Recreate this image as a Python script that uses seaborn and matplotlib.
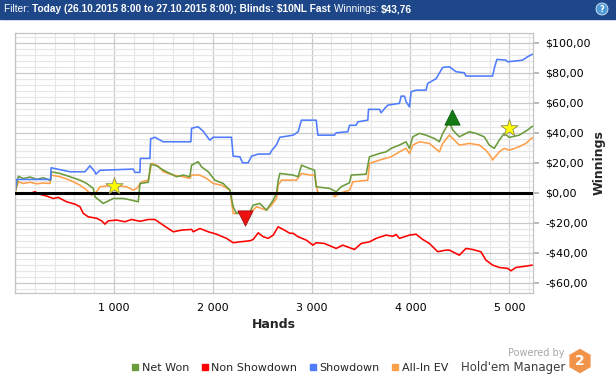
import matplotlib
matplotlib.use("Agg")
import matplotlib.pyplot as plt
from matplotlib.lines import Line2D
from matplotlib.patches import Rectangle, RegularPolygon, Circle
from matplotlib.ticker import MultipleLocator, FuncFormatter
import numpy as np
import pandas as pd
import seaborn as sns

# series (hands, winnings in $)
sd_hands = [0, 17, 361, 365, 556, 708, 758, 809, 819, 859, 1196, 1213, 1264, 1268, 1365, 1372, 1415,
            1500, 1779, 1786, 1853, 1904, 1971, 2005, 2190, 2207, 2275, 2302, 2359, 2393, 2460, 2578,
            2595, 2645, 2679, 2814, 2864, 2898, 3047, 3064, 3232, 3249, 3367, 3384, 3451, 3468, 3569,
            3576, 3687, 3704, 3737, 3771, 3889, 3906, 3940, 3957, 3990, 4007, 4057, 4158, 4175, 4259,
            4327, 4394, 4461, 4545, 4562, 4831, 4848, 4875, 4966, 4983, 5134, 5185, 5235]
sd_vals = [0, 8.9, 8.9, 16.7, 14, 14, 18, 14, 12.4, 15, 15.8, 13.6, 13.6, 22.9, 22.9, 36, 37,
           34, 34, 43, 44, 41, 35, 37, 37, 24.4, 24, 20, 20, 24.4, 25.8, 25.8,
           28, 32, 37, 38.4, 40.7, 48.4, 48.4, 38.4, 38.4, 40, 40.7, 45, 45, 47.3, 48.4,
           55.6, 55.6, 53.3, 56, 58.4, 59.6, 64.4, 64.4, 60.7, 57.3, 67.3, 68.4, 68.4, 72.9, 76,
           83.6, 84, 80.7, 80, 77.8, 77.8, 82.9, 88.9, 88.4, 87.3, 88.4, 90.7, 92.4]

nsd_hands = [0, 152, 202, 253, 320, 388, 438, 522, 607, 657, 691, 741, 826, 876, 910, 944, 1028, 1112,
             1179, 1264, 1348, 1415, 1500, 1550, 1601, 1685, 1786, 1803, 1870, 1955, 2039, 2140, 2207,
             2275, 2376, 2410, 2460, 2511, 2561, 2612, 2662, 2713, 2780, 2814, 2864, 2948, 3013, 3047,
             3131, 3249, 3316, 3434, 3502, 3586, 3653, 3754, 3822, 3855, 3889, 3990, 4057, 4124, 4192,
             4276, 4360, 4394, 4495, 4562, 4629, 4713, 4764, 4831, 4899, 4983, 5017, 5067, 5168, 5235]
nsd_vals = [0, -0.4, 0.7, -1, -2.2, -3.8, -3.1, -6, -7.6, -9.3, -13.8, -16, -17, -18.7, -20.9, -18.7,
            -18.2, -19.3, -17.8, -19, -17.8, -17.8, -21.6, -23.8, -26, -24.9, -24.4, -26, -23.8, -26,
            -27.6, -30.4, -33.3, -32.7, -32, -31.1, -26.7, -29.3, -30.4, -28.2, -22.7, -24.4, -27, -27,
            -29.3, -31.6, -34.9, -33.3, -33.8, -37.1, -34.9, -37.8, -33.8, -32.7, -30.4, -28.2, -29,
            -27.8, -30.4, -28.2, -27.6, -31.1, -33.8, -39.3, -38.2, -38.2, -41.6, -37.1, -37.8, -39.3,
            -44.9, -48.2, -49.8, -50.4, -52, -49.8, -48.9, -48.2]

net_hands = [0, 34, 84, 152, 219, 286, 354, 361, 364, 455, 556, 657, 725, 792, 809, 893, 994, 1095,
             1179, 1247, 1264, 1348, 1372, 1432, 1500, 1567, 1634, 1702, 1769, 1786, 1853, 1887, 1955,
             2022, 2106, 2174, 2207, 2241, 2308, 2376, 2410, 2477, 2544, 2578, 2612, 2645, 2662, 2679,
             2814, 2864, 2898, 2980, 3030, 3047, 3182, 3249, 3300, 3384, 3401, 3552, 3586, 3687, 3754,
             3805, 3889, 3956, 3990, 4024, 4091, 4158, 4242, 4293, 4327, 4394, 4428, 4495, 4596, 4663,
             4747, 4798, 4848, 4899, 4949, 5000, 5100, 5184, 5235]
net_vals = [0, 11, 9.5, 10.5, 9, 10, 8.4, 8.4, 14, 12.9, 10.7, 8.4, 6.2, 2.9, -2.7, -7.1, -3.8, -3.8,
            -4.9, -6, 6.2, 7, 19.1, 18, 15.1, 12.9, 10.7, 11.8, 10.7, 18.4, 20.7, 17.3, 14,
            8.4, 6.2, 1.8, -9.3, -13.8, -12.7, -12.7, -8.2, -7.1, -11.6, -8.2, -4.9, -0.4, 8, 12.9,
            11.8, 10.7, 18.4, 16.2, 15.1, 4, 2.9, 0.7, 4, 6.7, 11.8, 12.4, 24, 26.2, 27.3,
            29.6, 31.8, 34, 29.6, 37.3, 39.6, 38.4, 36.2, 34, 39.6, 47.3, 41.8, 37.3, 40.7, 39.6,
            37.3, 31.8, 29.6, 35.1, 39.6, 36.9, 38.4, 41.8, 44.4]

ev_hands = [0, 34, 84, 152, 219, 286, 354, 364, 455, 556, 657, 725, 775, 826, 859, 994, 1129, 1196,
            1230, 1281, 1348, 1382, 1449, 1500, 1601, 1702, 1769, 1786, 1870, 1938, 2005, 2089, 2174,
            2207, 2376, 2443, 2544, 2595, 2645, 2662, 2696, 2847, 2898, 2982, 3030, 3064, 3215, 3232,
            3283, 3384, 3418, 3569, 3586, 3687, 3805, 3889, 3956, 3990, 4024, 4091, 4192, 4293, 4327,
            4394, 4428, 4495, 4596, 4697, 4764, 4815, 4831, 4899, 4949, 5000, 5100, 5167, 5235]
ev_vals = [0, 7.3, 6.2, 7, 6, 6.5, 6.2, 11.8, 10.7, 8.4, 5.1, 1.8, -1.6, 0.7, 4, 5.1, 4, 1.8,
           2.9, 7.3, 8.4, 19.6, 17.8, 14, 11.8, 10.7, 9.6, 11.8, 11.8, 9.6, 6.2, 5.1, 1.8,
           -13.8, -13.8, -9.3, -11.6, -8.2, -3.8, 5.1, 8.4, 8.4, 12.9, 11.8, 11.8, -0.4, -0.4, -2.7,
           -0.4, 1.8, 7.3, 8.4, 19.6, 21.8, 24, 27.3, 29.6, 26.2, 31.8, 34, 32.9, 27.3, 32.9,
           38.4, 36.2, 31.8, 32.9, 31.8, 28.4, 24, 21.8, 27.3, 29.6, 28.4, 30.7, 32.9, 36.9]

# session markers
star_hands = [1000, 5000]
star_vals = [4.5, 43.5]
best_hand = [4420]
best_val = [50.5]
worst_hand = [2330]
worst_val = [-16.5]

series_names = ["Net Won", "Non Showdown", "Showdown", "All-In EV"]
series_colors = ["#6b9b3a", "#ff0000", "#4f7bff", "#ffa04a"]

df = pd.concat([
    pd.DataFrame({"hands": net_hands, "value": net_vals, "series": "Net Won"}),
    pd.DataFrame({"hands": nsd_hands, "value": nsd_vals, "series": "Non Showdown"}),
    pd.DataFrame({"hands": sd_hands, "value": sd_vals, "series": "Showdown"}),
    pd.DataFrame({"hands": ev_hands, "value": ev_vals, "series": "All-In EV"}),
])

sns.set_theme(style="white")
plt.rcParams["font.family"] = ["DejaVu Sans"]

W, H = 616, 380
fig = plt.figure(figsize=(W / 100, H / 100), dpi=100)
ax = fig.add_axes([15 / W, 1 - 293 / H, 518 / W, 260 / H])

# grid first
ax.xaxis.set_major_locator(MultipleLocator(1000))
ax.xaxis.set_minor_locator(MultipleLocator(200))
ax.yaxis.set_major_locator(MultipleLocator(20))
ax.yaxis.set_minor_locator(MultipleLocator(4))
ax.grid(which="major", color="#c9c9c9", lw=0.9)
ax.grid(which="minor", color="#e6e6e6", lw=0.8)
ax.set_axisbelow(True)

# draw order: orange, green, red, blue like the original
for name in ["All-In EV", "Net Won", "Non Showdown", "Showdown"]:
    sns.lineplot(data=df[df.series == name], x="hands", y="value", color=series_colors[series_names.index(name)],
                 lw=1.15, estimator=None, sort=False, ax=ax, legend=False)

ax.axhline(0, color="black", lw=2.2, zorder=3)

sns.scatterplot(x=star_hands, y=star_vals, marker="*", s=170, color="#ffff00", edgecolor="#8a8a5a",
                linewidth=0.6, ax=ax, zorder=5)
sns.scatterplot(x=best_hand, y=best_val, marker="^", s=120, color="#137a13", edgecolor="#0a5a0a",
                linewidth=0.6, ax=ax, zorder=5)
sns.scatterplot(x=worst_hand, y=worst_val, marker="v", s=120, color="#ee1111", edgecolor="#991111",
                linewidth=0.6, ax=ax, zorder=5)

ax.set_xlim(0, 5240)
ax.set_ylim(-66.8, 106.5)

ax.yaxis.tick_right()
ax.yaxis.set_label_position("right")


def money(v, pos):
    s = "${:,.2f}".format(abs(v)).replace(".", ",")
    return ("-" + s) if v < 0 else s


ax.yaxis.set_major_formatter(FuncFormatter(money))
ax.xaxis.set_major_formatter(FuncFormatter(lambda v, p: "" if v == 0 else "{:,}".format(int(v)).replace(",", " ")))
ax.tick_params(axis="y", which="major", length=4, color="#b0b0b0", pad=5, labelsize=8, labelcolor="black")
ax.tick_params(axis="y", which="minor", length=0)
ax.tick_params(axis="x", which="both", length=0, pad=7, labelsize=8, labelcolor="black")
ax.set_xlabel("Hands", fontsize=9, fontweight="bold", labelpad=4)
ax.set_ylabel("Winnings", fontsize=9, fontweight="bold", labelpad=1)
for sp in ax.spines.values():
    sp.set_color("#c4c4c4")
    sp.set_linewidth(0.9)

# legend
handles = [Line2D([], [], ls="none", marker="s", markersize=5, color=c) for c in series_colors]
fig.legend(handles, series_names, loc="center", bbox_to_anchor=(289 / W, 1 - 368 / H), ncol=4,
           frameon=False, fontsize=8, handletextpad=0.1, columnspacing=0.9, handlelength=1.0)

# top filter bar
fig.patches.append(Rectangle((0, 1 - 19 / H), 1, 19 / H, transform=fig.transFigure,
                             color="#1d4789", zorder=0))
renderer = fig.canvas.get_renderer()
parts = [("Filter: ", "normal"), ("Today (26.10.2015 8:00 to 27.10.2015 8:00); Blinds: $10NL Fast ", "bold"),
         ("Winnings: ", "normal"), ("$43,76", "bold")]
xpos = 4
for txt, wt in parts:
    t = fig.text(xpos / W, 1 - 9.5 / H, txt, color="white", fontsize=7.25, fontweight=wt,
                 family="Liberation Sans", va="center", ha="left")
    xpos += t.get_window_extent(renderer).width
fig.add_artist(Circle((602 / 100, (H - 9) / 100), 0.06, transform=fig.dpi_scale_trans,
                      color="#4f9ad6", ec="white", lw=0.5))
fig.text(602 / W, 1 - 9.5 / H, "?", color="white", fontsize=6, fontweight="bold", ha="center", va="center")

# branding
fig.text(565 / W, 1 - 353 / H, "Powered by", color="#a8a8a8", fontsize=7, ha="right", va="center")
fig.text(565 / W, 1 - 367 / H, "Hold'em Manager", color="#3c3c3c", fontsize=8.5, ha="right", va="center")
fig.add_artist(RegularPolygon((580 / 100, (H - 361) / 100), numVertices=6, radius=0.115,
                              transform=fig.dpi_scale_trans, color="#f2934a"))
fig.text(580 / W, 1 - 361 / H, "2", color="white", fontsize=10, fontweight="bold", ha="center", va="center")

fig.savefig("out.png", dpi=100)
